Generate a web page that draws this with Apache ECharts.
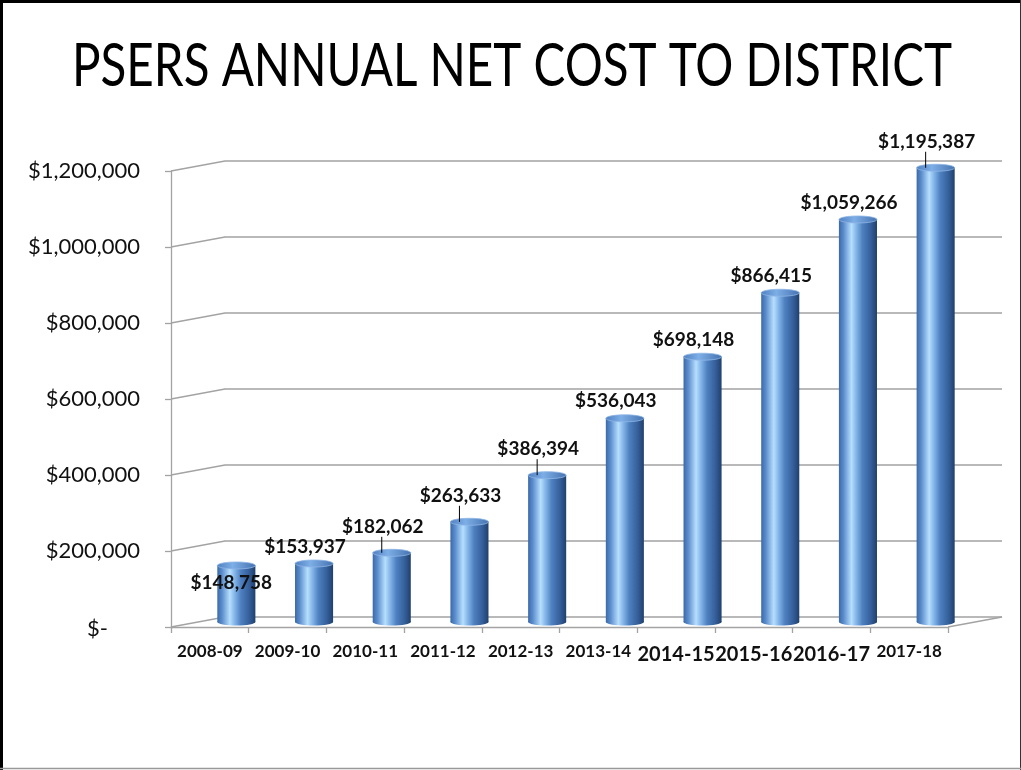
<!DOCTYPE html>
<html>
<head>
<meta charset="utf-8">
<script src="https://cdn.jsdelivr.net/npm/echarts@6/dist/echarts.min.js"></script>
<style>
  html, body { margin: 0; padding: 0; background: #fff; }
  #chart { width: 1021px; height: 770px; }
</style>
</head>
<body>
<div id="chart"></div>
<script>
// ---- data ----
const TITLE = 'PSERS ANNUAL NET COST TO DISTRICT';
const categories = ['2008-09', '2009-10', '2010-11', '2011-12', '2012-13', '2013-14', '2014-15', '2015-16', '2016-17', '2017-18'];
const netCost = [148758, 153937, 182062, 263633, 386394, 536043, 698148, 866415, 1059266, 1195387];
const yTicks = [0, 200000, 400000, 600000, 800000, 1000000, 1200000];

// ---- styling / layout (not data) ----
const DX = 54, DY = 10;                  // 3D depth offset of back wall
const bigLabelIdx = [6, 7, 8];           // category labels drawn larger
const labelMode = ['inside', 'above', 'leader', 'leader', 'leader', 'above', 'above', 'above', 'above', 'leader'];
const GRID_COLOR = '#a3a3a3';

function money(v) {
  return '$' + String(v).replace(/\B(?=(\d{3})+(?!\d))/g, ',');
}

const chart = echarts.init(document.getElementById('chart'), null, { renderer: 'canvas' });

// title width scaling to mimic narrow font
const cvs = document.createElement('canvas').getContext('2d');
cvs.font = '60px Lato';
const titleW = cvs.measureText(TITLE).width || 880;
const titleScale = 880 / titleW;

function renderGrid(params, api) {
  const cs = params.coordSys;
  const v = api.value(1);
  const y = api.coord([0, v])[1];
  const x0 = cs.x, x1 = cs.x + cs.width;
  const children = [{
    type: 'polyline',
    shape: { points: [[x0, y], [x0 + DX, y - DY], [x1 + DX, y - DY]] },
    style: { stroke: GRID_COLOR, lineWidth: 1.3, fill: null }
  }];
  if (v === 0) {
    children.push({
      type: 'line',
      shape: { x1: x1, y1: y, x2: x1 + DX, y2: y - DY },
      style: { stroke: GRID_COLOR, lineWidth: 1.3 }
    });
  }
  return { type: 'group', children: children };
}

const bodyGrad = {
  type: 'linear', x: 0, y: 0, x2: 1, y2: 0,
  colorStops: [
    { offset: 0, color: '#3b69a8' },
    { offset: 0.12, color: '#5a8ccc' },
    { offset: 0.33, color: '#b6defe' },
    { offset: 0.45, color: '#86b7ea' },
    { offset: 0.62, color: '#4e80c0' },
    { offset: 0.85, color: '#335d98' },
    { offset: 1, color: '#20406b' }
  ]
};
const topGrad = {
  type: 'linear', x: 0, y: 0, x2: 1, y2: 0,
  colorStops: [
    { offset: 0, color: '#4f7fc0' },
    { offset: 0.4, color: '#7eaee6' },
    { offset: 1, color: '#4472b0' }
  ]
};

function renderBar(params, api) {
  const i = api.value(0), v = api.value(1);
  const base = api.coord([i, 0]);
  const top = api.coord([i, v]);
  const band = api.size([1, 0])[0];
  const cx = base[0] + DX / 2 - 0.5;
  const yb = base[1] - DY / 2;
  const yt = top[1] - DY / 2;
  const rx = band * 0.245, ry = 3.5;
  const children = [
    { type: 'ellipse', shape: { cx: cx, cy: yb, rx: rx, ry: ry }, style: { fill: bodyGrad } },
    { type: 'rect', shape: { x: cx - rx, y: yt, width: rx * 2, height: yb - yt }, style: { fill: bodyGrad } },
    { type: 'ellipse', shape: { cx: cx, cy: yt, rx: rx, ry: ry }, style: { fill: topGrad, stroke: '#8fb6e6', lineWidth: 0.8 } }
  ];
  const mode = labelMode[params.dataIndex];
  let lx = cx - 9, ly = yt - 17;
  if (mode === 'inside') { lx = cx - 5; ly = yt + 17; }
  if (mode === 'leader') {
    ly = yt - 26;
    children.push({ type: 'line', shape: { x1: lx - 1, y1: ly + 10, x2: lx - 1, y2: yt }, style: { stroke: '#000', lineWidth: 1 }, z2: 20 });
  }
  children.push({
    type: 'text', x: lx, y: ly, z2: 30,
    style: {
      text: money(v), fill: '#111', font: 'bold 19px Lato',
      align: 'center', verticalAlign: 'middle'
    }
  });
  return { type: 'group', children: children };
}

const option = {
  backgroundColor: '#fff',
  animation: false,
  grid: { left: 171, right: 73, top: 171, bottom: 143, containLabel: false, outerBoundsMode: 'none' },
  xAxis: {
    type: 'category',
    data: categories,
    boundaryGap: true,
    axisLine: { lineStyle: { color: GRID_COLOR, width: 1.3 } },
    axisTick: { show: true, length: 6, lineStyle: { color: GRID_COLOR, width: 1.3 } },
    axisLabel: {
      margin: 15, interval: 0, color: '#111',
      formatter: function (val, idx) {
        return (bigLabelIdx.indexOf(idx) >= 0 ? '{b|' : '{s|') + val + '}';
      },
      rich: {
        s: { fontFamily: 'Lato', fontWeight: 'bold', fontSize: 17, lineHeight: 20, color: '#111' },
        b: { fontFamily: 'Lato', fontWeight: 'bold', fontSize: 20, lineHeight: 20, padding: [6, 0, 0, 0], color: '#111' }
      }
    },
    splitLine: { show: false }
  },
  yAxis: {
    type: 'value',
    min: 0, max: 1200000, interval: 200000,
    axisLine: { show: true, lineStyle: { color: GRID_COLOR, width: 1.3 } },
    axisTick: { show: true, length: 6, lineStyle: { color: GRID_COLOR, width: 1.3 } },
    splitLine: { show: false },
    axisLabel: {
      margin: 31, color: '#111', fontFamily: 'Lato', fontSize: 22,
      formatter: function (v) { return v === 0 ? '{z|$-}' : money(v); },
      rich: { z: { fontFamily: 'Lato', fontSize: 22, color: '#111', padding: [4, 32, 0, 0] } }
    }
  },
  graphic: [
    { type: 'text', x: 512, y: 67, scaleX: titleScale, z: 10,
      style: { text: TITLE, font: '60px Lato', fill: '#000', align: 'center', verticalAlign: 'middle' } },
    { type: 'line', shape: { x1: 1.5, y1: 0, x2: 1.5, y2: 770 }, style: { stroke: '#000', lineWidth: 3 } },
    { type: 'line', shape: { x1: 0, y1: 1.5, x2: 1021, y2: 1.5 }, style: { stroke: '#000', lineWidth: 3 } },
    { type: 'line', shape: { x1: 1020.5, y1: 0, x2: 1020.5, y2: 770 }, style: { stroke: '#333', lineWidth: 1 } },
    { type: 'line', shape: { x1: 0, y1: 768.5, x2: 1021, y2: 768.5 }, style: { stroke: '#999', lineWidth: 1.5 } }
  ],
  series: [
    {
      type: 'custom', name: 'grid3d', z: 1, silent: true,
      renderItem: renderGrid,
      encode: { x: 0, y: 1 },
      data: yTicks.map(function (t) { return [0, t]; })
    },
    {
      type: 'custom', name: 'Net cost', z: 3,
      renderItem: renderBar,
      encode: { x: 0, y: 1 },
      data: netCost.map(function (v, i) { return [i, v]; })
    }
  ]
};
chart.setOption(option);
</script>
</body>
</html>
